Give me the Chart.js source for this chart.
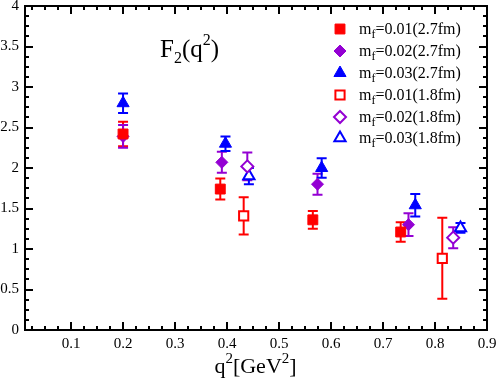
<!DOCTYPE html>
<html><head><meta charset="utf-8">
<script src="https://cdn.jsdelivr.net/npm/chart.js@4/dist/chart.umd.min.js"></script>
<style>html,body{margin:0;padding:0;background:#fff}</style>
</head><body>
<canvas id="c" width="498" height="381"></canvas>
<script>
// ---- data ----
const legendLabels = ['0.01(2.7fm)','0.02(2.7fm)','0.03(2.7fm)','0.01(1.8fm)','0.02(1.8fm)','0.03(1.8fm)'];
const xTickValues = [0.1,0.2,0.3,0.4,0.5,0.6,0.7,0.8,0.9];
const yTickValues = [0,0.5,1,1.5,2,2.5,3,3.5,4];

const q2_m001_27 = [0.200, 0.387, 0.565, 0.734];
const F2_m001_27 = [2.42, 1.74, 1.36, 1.21];
const er_m001_27 = [0.15, 0.13, 0.11, 0.12];

const q2_m002_27 = [0.200, 0.390, 0.574, 0.749];
const F2_m002_27 = [2.39, 2.07, 1.80, 1.30];
const er_m002_27 = [0.14, 0.13, 0.13, 0.14];

const q2_m003_27 = [0.200, 0.397, 0.582, 0.762];
const F2_m003_27 = [2.80, 2.30, 2.00, 1.54];
const er_m003_27 = [0.12, 0.09, 0.12, 0.14];

const q2_m001_18 = [0.432, 0.814];
const F2_m001_18 = [1.41, 0.885];
const er_m001_18 = [0.23, 0.50];

const q2_m002_18 = [0.439, 0.835];
const F2_m002_18 = [2.02, 1.14];
const er_m002_18 = [0.17, 0.13];

const q2_m003_18 = [0.442, 0.849];
const F2_m003_18 = [1.90, 1.26];
const er_m003_18 = [0.10, 0.06];

const RED='#ff0000', PUR='#9400d3', BLU='#0000ff';
const SERIF = '"Liberation Serif", "DejaVu Serif", serif';

function mk(label, xs, ys, es, color, style, open, r){
  return {
    label, errors: es,
    data: xs.map((x,i)=>({x, y: ys[i]})),
    pointStyle: style, pointRadius: r, pointHoverRadius: r,
    backgroundColor: open ? '#ffffff' : color,
    borderColor: color, borderWidth: open ? 2 : 1,
    showLine: false, errColor: color
  };
}
const datasets = [
  mk(legendLabels[0], q2_m001_27, F2_m001_27, er_m001_27, RED, 'rect', false, 7),
  mk(legendLabels[1], q2_m002_27, F2_m002_27, er_m002_27, PUR, 'rectRot', false, 6),
  mk(legendLabels[2], q2_m003_27, F2_m003_27, er_m003_27, BLU, 'triangle', false, 7),
  mk(legendLabels[3], q2_m001_18, F2_m001_18, er_m001_18, RED, 'rect', true, 6.5),
  mk(legendLabels[4], q2_m002_18, F2_m002_18, er_m002_18, PUR, 'rectRot', true, 6),
  mk(legendLabels[5], q2_m003_18, F2_m003_18, er_m003_18, BLU, 'triangle', true, 6.5),
];

function drawRich(ctx, parts, x, y){
  let cx = x;
  for (const p of parts){
    ctx.font = p.size + 'px ' + SERIF;
    ctx.fillText(p.t, cx, y + (p.dy||0));
    cx += ctx.measureText(p.t).width;
  }
  return cx;
}

// pin the plot area to the reference frame
const fixArea = {
  id:'fixArea',
  afterLayout(chart){
    const x = chart.scales.x, y = chart.scales.y;
    const L=25, R=487, T=6, B=330, H=381;
    x.left=L; x.right=R; x.width=R-L; x.top=B; x.bottom=H; x.height=H-B;
    y.left=0; y.right=L; y.width=L; y.top=T; y.bottom=B; y.height=B-T;
    x.configure(); y.configure();
    Object.assign(chart.chartArea, {left:L, right:R, top:T, bottom:B, width:R-L, height:B-T});
  }
};

const errorBars = {
  id:'errorBars',
  beforeDatasetsDraw(chart){
    const ctx = chart.ctx, xs = chart.scales.x, ys = chart.scales.y;
    ctx.save();
    ctx.lineWidth = 2;
    chart.data.datasets.forEach(ds=>{
      ctx.strokeStyle = ds.errColor;
      ds.data.forEach((p,i)=>{
        const e = ds.errors[i];
        const px = xs.getPixelForValue(p.x);
        const y1 = ys.getPixelForValue(p.y + e), y2 = ys.getPixelForValue(p.y - e);
        ctx.beginPath();
        ctx.moveTo(px, y1); ctx.lineTo(px, y2);
        ctx.moveTo(px-5, y1); ctx.lineTo(px+5, y1);
        ctx.moveTo(px-5, y2); ctx.lineTo(px+5, y2);
        ctx.stroke();
      });
    });
    ctx.restore();
  }
};

const frame = {
  id:'frame',
  afterDraw(chart){
    const ctx = chart.ctx, a = chart.chartArea, xs = chart.scales.x, ys = chart.scales.y;
    ctx.save();
    ctx.strokeStyle = '#000'; ctx.lineWidth = 2;
    ctx.strokeRect(a.left, a.top, a.right-a.left, a.bottom-a.top);
    ctx.beginPath();
    for (let k=1; k<=36; k++){
      const v = k*0.025;
      if (v < xs.min || v > xs.max + 1e-9) continue;
      const major = k % 4 === 0;
      const L = major ? 8 : 4;
      const px = Math.round(xs.getPixelForValue(v));
      ctx.moveTo(px, a.bottom); ctx.lineTo(px, a.bottom - L);
      ctx.moveTo(px, a.top); ctx.lineTo(px, a.top + L);
    }
    for (let k=1; k<32; k++){
      const v = k*0.125;
      const major = k % 4 === 0;
      const L = major ? 8 : 4;
      const py = Math.round(ys.getPixelForValue(v));
      ctx.moveTo(a.left, py); ctx.lineTo(a.left + L, py);
      ctx.moveTo(a.right, py); ctx.lineTo(a.right - L, py);
    }
    ctx.stroke();

    // panel title
    ctx.fillStyle = '#000';
    ctx.textBaseline = 'alphabetic'; ctx.textAlign = 'left';
    drawRich(ctx, [{t:'F',size:25},{t:'2',size:16,dy:6},{t:'(q',size:25},{t:'2',size:16,dy:-12},{t:')',size:25}], 160, 57);

    // x axis title
    const parts = [{t:'q',size:22},{t:'2',size:15,dy:-10},{t:'[GeV',size:22},{t:'2',size:15,dy:-10},{t:']',size:22}];
    let w = 0; parts.forEach(p=>{ctx.font=p.size+'px '+SERIF; w+=ctx.measureText(p.t).width;});
    drawRich(ctx, parts, 255.5 - w/2, 373);

    // legend
    const rows = [29, 51, 73, 95, 117, 138];
    chart.data.datasets.forEach((ds,i)=>{
      const y = rows[i];
      ctx.fillStyle = ds.backgroundColor; ctx.strokeStyle = ds.borderColor; ctx.lineWidth = ds.borderWidth;
      Chart.helpers.drawPoint(ctx, {pointStyle: ds.pointStyle, radius: ds.pointRadius, borderWidth: ds.borderWidth, rotation: 0}, 340, y);
      ctx.fillStyle = '#000';
      drawRich(ctx, [{t:'m',size:16},{t:'f',size:12,dy:4},{t:'='+ds.label,size:16}], 359, y+5);
    });
    ctx.restore();
  }
};

new Chart(document.getElementById('c'), {
  type:'scatter',
  data:{datasets},
  options:{
    responsive:false, animation:false, devicePixelRatio:1,
    layout:{padding:{top:6,right:11,left:0,bottom:0}},
    plugins:{legend:{display:false}, tooltip:{enabled:false}},
    scales:{
      x:{
        type:'linear', min:0.0114, max:0.9,
        afterBuildTicks(s){ s.ticks = xTickValues.map(v=>({value:v})); },
        afterFit(s){ s.height = 51; },
        grid:{display:false, drawTicks:false}, border:{display:false},
        ticks:{callback:v=>v.toFixed(1), color:'#000', padding:5, maxRotation:0, autoSkip:false, font:{family:SERIF, size:15}}
      },
      y:{
        type:'linear', min:0, max:4,
        afterBuildTicks(s){ s.ticks = yTickValues.map(v=>({value:v})); },
        afterFit(s){ s.width = 25; },
        grid:{display:false, drawTicks:false}, border:{display:false},
        ticks:{callback:v=>String(v), color:'#000', padding:6, autoSkip:false, font:{family:SERIF, size:15}}
      }
    }
  },
  plugins:[fixArea, errorBars, frame]
});
</script>
</body></html>
